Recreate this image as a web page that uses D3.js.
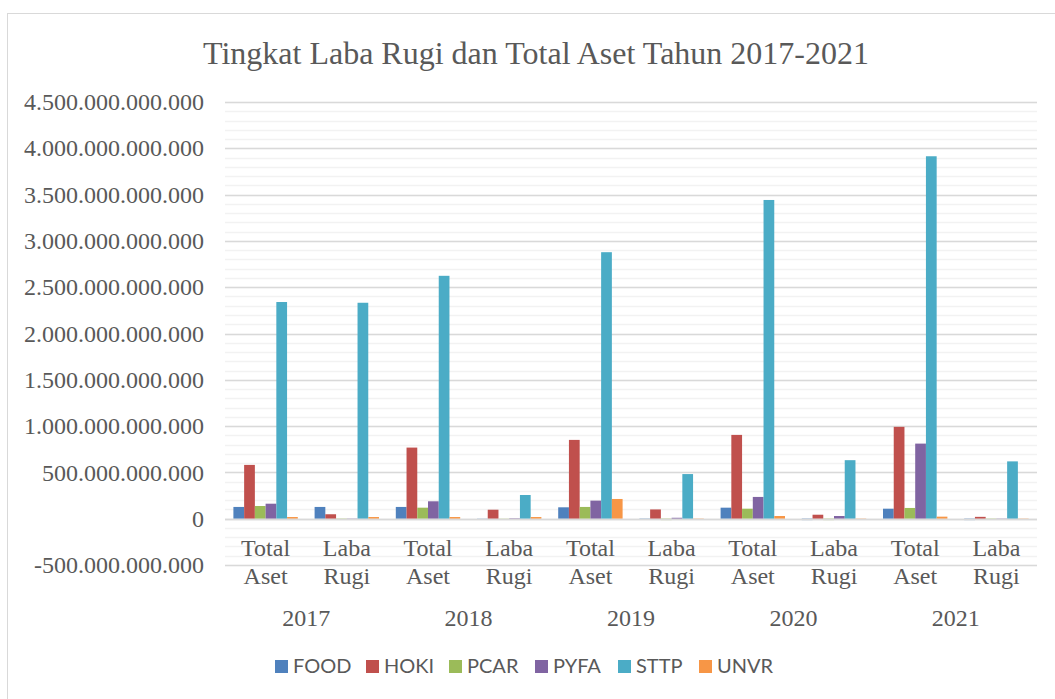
<!DOCTYPE html>
<html>
<head>
<meta charset="utf-8">
<script src="https://cdn.jsdelivr.net/npm/d3@7"></script>
<style>
  body { margin: 0; background: #fff; }
  svg text { fill: #595959; }
</style>
</head>
<body>
<div id="chart"></div>
<script>
// data (values in Rupiah)
var years = ["2017", "2018", "2019", "2020", "2021"];
var kinds = ["Total Aset", "Laba Rugi"];
var companies = ["FOOD", "HOKI", "PCAR", "PYFA", "STTP", "UNVR"];
var colors = ["#4f81bd", "#c0504d", "#9bbb59", "#8064a2", "#4bacc6", "#f79646"];

// one value per category: 2017 TA, 2017 LR, 2018 TA, 2018 LR, ...
var FOOD = [127e9, 127e9, 127e9, 2e9, 123e9, 3e9, 119e9, -15e9, 108e9, -15e9];
var HOKI = [581e9, 48e9, 768e9, 97e9, 851e9, 100e9, 905e9, 43e9, 992e9, 20e9];
var PCAR = [137e9, 3e9, 119e9, -2e9, 127e9, -15e9, 108e9, -15e9, 116e9, 3e9];
var PYFA = [162e9, 3e9, 188e9, 5e9, 195e9, 10e9, 235e9, 29e9, 811e9, 3e9];
var STTP = [2340e9, 2332e9, 2623e9, 256e9, 2878e9, 482e9, 3442e9, 632e9, 3914e9, 619e9];
var UNVR = [18e9, 18e9, 18e9, 18e9, 213e9, 3e9, 29e9, 3e9, 22e9, 3e9];
var yTicks = [-500e9, 0, 500e9, 1000e9, 1500e9, 2000e9, 2500e9, 3000e9, 3500e9, 4000e9, 4500e9];

var series = [FOOD, HOKI, PCAR, PYFA, STTP, UNVR];

// categories = year x kind
var cats = [];
years.forEach(function(y) {
  kinds.forEach(function(k) { cats.push(y + "|" + k); });
});

var W = 1055, H = 699;
var margin = {top: 102, left: 225, right: 18, bottom: 134};

var svg = d3.select("#chart").append("svg")
    .attr("width", W)
    .attr("height", H);

// chart border (only left and top fall inside the picture)
svg.append("rect")
    .attr("x", 7.5).attr("y", 13.5)
    .attr("width", 1080).attr("height", 720)
    .attr("fill", "none")
    .attr("stroke", "#d9d9d9")
    .attr("stroke-width", 1);

var x0 = d3.scaleBand()
    .domain(cats)
    .range([margin.left, W - margin.right]);

var x1 = d3.scaleBand()
    .domain(companies)
    .range([8.4, x0.bandwidth() - 8.4]);

var y = d3.scaleLinear()
    .domain([-500e9, 4500e9])
    .range([H - margin.bottom, margin.top]);

var loc = d3.formatLocale({decimal: ",", thousands: ".", grouping: [3], currency: ["Rp", ""], minus: "-"});
var fmt = loc.format(",.0f");

// minor gridlines
var minor = d3.range(-500e9, 4500e9 + 1, 100e9);
svg.append("g").selectAll("line")
    .data(minor)
    .enter().append("line")
    .attr("x1", margin.left).attr("x2", W - margin.right)
    .attr("y1", function(d) { return Math.round(y(d)) + 0.5; })
    .attr("y2", function(d) { return Math.round(y(d)) + 0.5; })
    .attr("stroke", "#f2f2f2")
    .attr("stroke-width", 1.5);

// major gridlines
svg.append("g").selectAll("line")
    .data(yTicks)
    .enter().append("line")
    .attr("x1", margin.left).attr("x2", W - margin.right)
    .attr("y1", function(d) { return Math.round(y(d)) + 0.5; })
    .attr("y2", function(d) { return Math.round(y(d)) + 0.5; })
    .attr("stroke", "#d9d9d9")
    .attr("stroke-width", 1.5);

// y axis labels
var yAxis = d3.axisLeft(y).tickValues(yTicks).tickFormat(fmt).tickSize(0).tickPadding(0);
var gy = svg.append("g")
    .attr("transform", "translate(204,0)")
    .call(yAxis);
gy.select(".domain").remove();
gy.selectAll("text")
    .attr("font-family", "'Liberation Serif', 'Times New Roman', serif")
    .attr("font-size", 24)
    .attr("fill", "#595959");

// bars
var groups = svg.append("g").selectAll("g")
    .data(cats)
    .enter().append("g")
    .attr("transform", function(d) { return "translate(" + x0(d) + ",0)"; });

groups.selectAll("rect")
    .data(function(d, i) {
      return companies.map(function(c, j) { return {c: c, v: series[j][i], color: colors[j]}; });
    })
    .enter().append("rect")
    .attr("x", function(d) { return x1(d.c); })
    .attr("width", x1.bandwidth())
    .attr("y", function(d) { return y(Math.max(0, d.v)); })
    .attr("height", function(d) { return Math.abs(y(d.v) - y(0)); })
    .attr("fill", function(d) { return d.color; });

// zero axis line
svg.append("line")
    .attr("x1", margin.left).attr("x2", W - margin.right)
    .attr("y1", Math.round(y(0)) + 0.5).attr("y2", Math.round(y(0)) + 0.5)
    .attr("stroke", "#d9d9d9")
    .attr("stroke-width", 1.5);

// category labels (two lines)
var catLab = svg.append("g").selectAll("text")
    .data(cats)
    .enter().append("text")
    .attr("text-anchor", "middle")
    .attr("font-family", "'Liberation Serif', 'Times New Roman', serif")
    .attr("font-size", 24)
    .attr("transform", function(d) { return "translate(" + (x0(d) + x0.bandwidth() / 2) + ",556)"; });

catLab.each(function(d) {
  var parts = d.split("|")[1].split(" ");
  var t = d3.select(this);
  parts.forEach(function(p, i) {
    t.append("tspan").attr("x", 0).attr("y", i * 27.5).text(p);
  });
});

// year labels
svg.append("g").selectAll("text")
    .data(years)
    .enter().append("text")
    .attr("x", function(d) { return x0(d + "|" + kinds[1]); })
    .attr("y", 626)
    .attr("text-anchor", "middle")
    .attr("font-family", "'Liberation Serif', 'Times New Roman', serif")
    .attr("font-size", 24)
    .text(function(d) { return d; });

// title
svg.append("text")
    .attr("x", 536)
    .attr("y", 64)
    .attr("text-anchor", "middle")
    .attr("font-family", "'Liberation Serif', 'Times New Roman', serif")
    .attr("font-size", 32)
    .text("Tingkat Laba Rugi dan Total Aset Tahun 2017-2021");

// legend
var legX = [275, 366, 449, 535, 618, 699];
var leg = svg.append("g").selectAll("g")
    .data(companies)
    .enter().append("g")
    .attr("transform", function(d, i) { return "translate(" + legX[i] + ",660)"; });

leg.append("rect")
    .attr("width", 13).attr("height", 13)
    .attr("fill", function(d, i) { return colors[i]; });

leg.append("text")
    .attr("x", 18)
    .attr("y", 13)
    .attr("font-family", "Lato, 'Open Sans', sans-serif")
    .attr("font-size", 20)
    .text(function(d) { return d; });
</script>
</body>
</html>
